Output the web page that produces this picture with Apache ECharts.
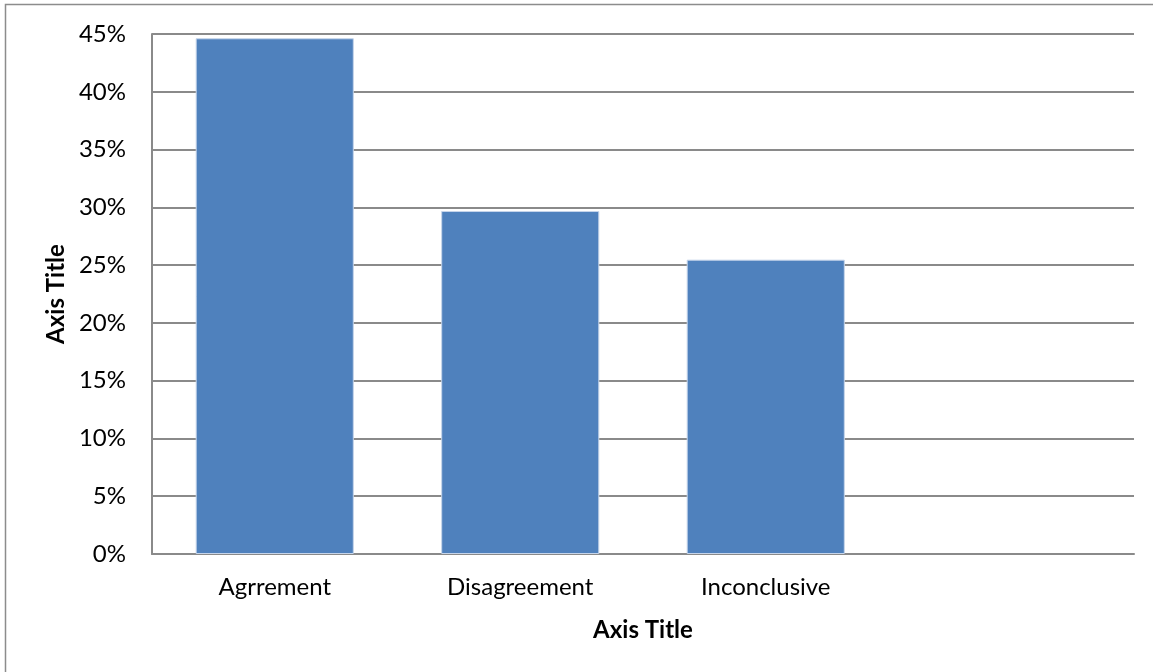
<!DOCTYPE html>
<html>
<head>
<meta charset="utf-8">
<script src="https://cdn.jsdelivr.net/npm/echarts@6/dist/echarts.min.js"></script>
<style>
html,body{margin:0;padding:0;background:#fff;}
#chart{width:1153px;height:672px;}
</style>
</head>
<body>
<div id="chart"></div>
<script>
const categories = ['Agrrement', 'Disagreement', 'Inconclusive', ''];
const shares = [0.4463, 0.2968, 0.2547, null];
const yTickMax = 0.45;
const yTickStep = 0.05;
const xAxisTitle = 'Axis Title';
const yAxisTitle = 'Axis Title';

const FONT = 'Lato, "Open Sans", sans-serif';
const chart = echarts.init(document.getElementById('chart'));
chart.setOption({
  animation: false,
  backgroundColor: '#ffffff',
  graphic: [{
    type: 'rect',
    shape: {x: 5.5, y: 4.5, width: 1160, height: 680},
    style: {fill: 'none', stroke: '#8c8c8c', lineWidth: 1.5},
    silent: true
  }],
  grid: {left: 152, right: 19, top: 34, bottom: 118, containLabel: false},
  xAxis: {
    type: 'category',
    data: categories,
    name: xAxisTitle,
    nameLocation: 'middle',
    nameGap: 64,
    nameTextStyle: {fontFamily: FONT, fontSize: 24, fontWeight: 'bold', color: '#000'},
    axisLine: {lineStyle: {color: '#8a8a8a', width: 2}},
    axisTick: {show: false},
    axisLabel: {fontFamily: FONT, fontSize: 24, color: '#000', margin: 21}
  },
  yAxis: {
    type: 'value',
    min: 0,
    max: yTickMax,
    interval: yTickStep,
    name: yAxisTitle,
    nameLocation: 'middle',
    nameRotate: 90,
    nameGap: 83,
    nameTextStyle: {fontFamily: FONT, fontSize: 24, fontWeight: 'bold', color: '#000'},
    axisLine: {show: true, lineStyle: {color: '#8a8a8a', width: 2}},
    axisTick: {show: false},
    splitLine: {lineStyle: {color: '#8a8a8a', width: 2}},
    axisLabel: {
      fontFamily: FONT, fontSize: 24, color: '#000', margin: 26,
      formatter: v => Math.round(v * 100) + '%'
    }
  },
  series: [{
    type: 'bar',
    data: shares,
    barCategoryGap: '35.6%',
    itemStyle: {color: '#4f81bd', borderColor: '#c6d5ea', borderWidth: 1}
  }]
});
</script>
</body>
</html>
